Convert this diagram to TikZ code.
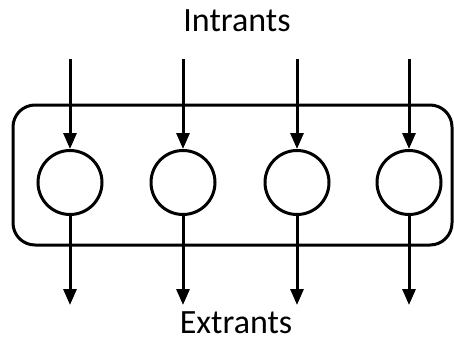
\documentclass[tikz,border=0pt]{standalone}
\usepackage{fontspec}
\setmainfont{Carlito}
\usepackage{tikz}
\usetikzlibrary{arrows.meta,positioning,shapes}

\begin{document}
\begin{tikzpicture}[x = 1pt, y = -1pt,
  flow/.style = {-{Triangle[length=16pt, width=13pt]}, line width = 3pt},
  unit/.style = {circle, draw, line width = 3pt, minimum size = 64pt, inner sep = 0pt},
  lbl/.style = {anchor = base, font = \fontsize{34}{34}\selectfont}]
\useasboundingbox (0,0) rectangle (454,343);
\draw[line width = 3pt, rounded corners = 22pt] (13,105) rectangle (452,245);
\node[lbl] (in) at (237,31) {Intrants};
\node[lbl] (out) at (236,333) {Extrants};
\node[unit] (c1) at (70,182.5) {};
\node[unit] (c2) at (183,182.5) {};
\node[unit] (c3) at (297,182.5) {};
\node[unit] (c4) at (409,182.5) {};
\coordinate (i1) at (70,59);
\coordinate (i2) at (183,59);
\coordinate (i3) at (297,59);
\coordinate (i4) at (409,59);
\coordinate (o1) at (70,305);
\coordinate (o2) at (183,305);
\coordinate (o3) at (297,305);
\coordinate (o4) at (409,305);
\draw[flow] (i1) -- (c1);
\draw[flow] (i2) -- (c2);
\draw[flow] (i3) -- (c3);
\draw[flow] (i4) -- (c4);
\draw[flow] (c1) -- (o1);
\draw[flow] (c2) -- (o2);
\draw[flow] (c3) -- (o3);
\draw[flow] (c4) -- (o4);
\end{tikzpicture}
\end{document}
